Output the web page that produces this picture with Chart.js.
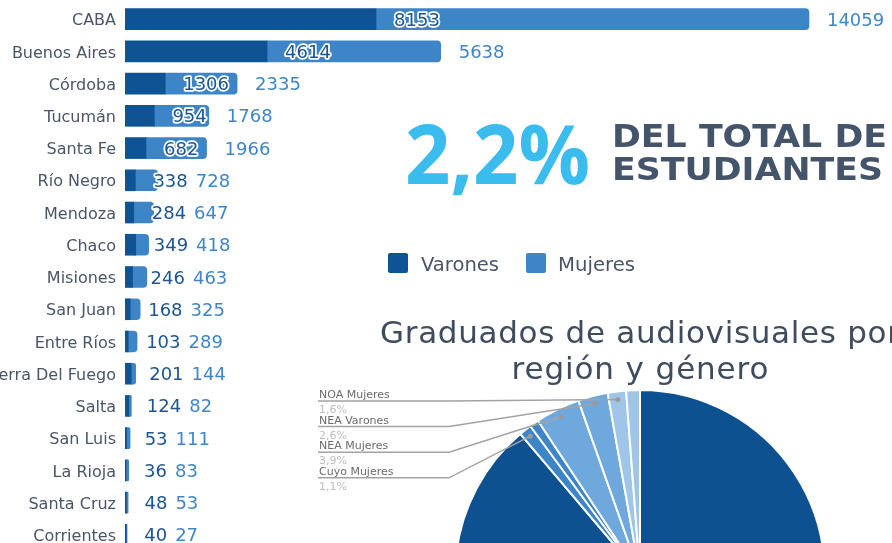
<!DOCTYPE html>
<html><head><meta charset="utf-8">
<script src="https://cdn.jsdelivr.net/npm/chart.js@4.4.1/dist/chart.umd.min.js"></script>
<style>
html,body{margin:0;padding:0;width:892px;height:543px;overflow:hidden;background:#fff;position:relative}
#barWrap{position:absolute;left:-40px;top:0;width:932px;height:560px}
#pieWrap{position:absolute;left:300px;top:380px;width:592px;height:400px}
#txt{position:absolute;left:0;top:0}
</style></head><body>
<div id="barWrap"><canvas id="bar"></canvas></div>
<svg id="txt" width="892" height="543">
  <text x="405" y="184" font-family="Open Sans" font-weight="700" font-size="82" fill="#3bbcee" textLength="185" lengthAdjust="spacingAndGlyphs">2,2%</text>
  <text x="612" y="147" font-family="DejaVu Sans" font-weight="700" font-size="32" fill="#44546a" textLength="275" lengthAdjust="spacingAndGlyphs">DEL TOTAL DE</text>
  <text x="612" y="180" font-family="DejaVu Sans" font-weight="700" font-size="32" fill="#44546a" textLength="271" lengthAdjust="spacingAndGlyphs">ESTUDIANTES</text>
  <rect x="388" y="253" width="20" height="20" rx="2" fill="#0f5394"/>
  <text x="421" y="271" font-family="DejaVu Sans" font-size="20" fill="#4a5568" textLength="78" lengthAdjust="spacingAndGlyphs">Varones</text>
  <rect x="526" y="253" width="20" height="20" rx="2" fill="#3d85c6"/>
  <text x="558" y="271" font-family="DejaVu Sans" font-size="20" fill="#4a5568" textLength="77" lengthAdjust="spacingAndGlyphs">Mujeres</text>
  <text x="640" y="343" text-anchor="middle" font-family="DejaVu Sans" font-size="31" fill="#3e4c5e" textLength="520" lengthAdjust="spacing">Graduados de audiovisuales por</text>
  <text x="640" y="379" text-anchor="middle" font-family="DejaVu Sans" font-size="31" fill="#3e4c5e" textLength="257" lengthAdjust="spacing">región y género</text>
</svg>
<div id="pieWrap"><canvas id="pie"></canvas></div>
<script>
// ---- Bar chart data ----
const provincias = ["CABA","Buenos Aires","Córdoba","Tucumán","Santa Fe","Río Negro","Mendoza","Chaco","Misiones","San Juan","Entre Ríos","Tierra Del Fuego","Salta","San Luis","La Rioja","Santa Cruz","Corrientes"];
const varones = [8153,4614,1306,954,682,338,284,349,246,168,103,201,124,53,36,48,40];
const mujeres = [14059,5638,2335,1768,1966,728,647,418,463,325,289,144,82,111,83,53,27];

// ---- Pie chart data ----
const pieLabels = ["CABA Mujeres","CABA Varones","Buenos Aires Mujeres","Buenos Aires Varones","Patagonia Mujeres","Patagonia Varones","Centro Varones","Centro Mujeres","Cuyo Mujeres","Cuyo Varones","NEA Mujeres","NEA Varones","NOA Mujeres","NOA Varones"];
const piePct = [31.5,18.3,11.0,7.0,2.5,1.5,5.0,12.0,1.1,0.8,3.9,2.6,1.6,1.2];
const calloutNames = ["NOA Mujeres","NEA Varones","NEA Mujeres","Cuyo Mujeres"];

const pieColors = ["#0e5190","#1a5fa0","#2a6fb0","#2f76b8","#3d85c6","#3d85c6","#1f64a4","#0e5190","#3d85c6","#3d85c6","#6fa8dc","#6fa8dc","#9fc5e8","#9fc5e8"];

const barLabels = {
  id:'barLabels',
  afterDatasetsDraw(chart){
    const ctx = chart.ctx;
    const mv = chart.getDatasetMeta(0), mm = chart.getDatasetMeta(1);
    const dv = chart.data.datasets[0].data, dm = chart.data.datasets[1].data;
    ctx.save();
    ctx.font = '18px "DejaVu Sans"';
    ctx.textBaseline = 'alphabetic';
    ctx.textAlign = 'left';
    ctx.lineJoin = 'round';
    mv.data.forEach((el,i)=>{
      const tv = String(dv[i]), tm = String(dm[i]);
      const yb = el.y + 6.5;
      const xv = el.x + 18;
      ctx.lineWidth = 3.5; ctx.strokeStyle = '#ffffff';
      ctx.strokeText(tv, xv, yb);
      ctx.fillStyle = '#1b5593'; ctx.fillText(tv, xv, yb);
      const xm = Math.max(mm.data[i].x + 18, xv + ctx.measureText(tv).width + 8);
      ctx.strokeText(tm, xm, yb);
      ctx.fillStyle = '#3f86c8'; ctx.fillText(tm, xm, yb);
    });
    ctx.restore();
  }
};

new Chart(document.getElementById('bar'), {
  type:'bar',
  data:{labels:provincias, datasets:[
    {label:'Varones', data:varones, backgroundColor:'#0f5394', borderRadius:0, barThickness:21},
    {label:'Mujeres', data:mujeres, backgroundColor:'#3d85c6', borderRadius:4, barThickness:21}
  ]},
  options:{
    indexAxis:'y', responsive:true, maintainAspectRatio:false, animation:false,
    layout:{padding:{top:3,bottom:9,right:28,left:0}},
    plugins:{legend:{display:false}, tooltip:{enabled:false}},
    scales:{
      x:{stacked:true, display:false, min:0, max:24000},
      y:{stacked:true, grid:{display:false, drawTicks:false}, border:{display:false},
         ticks:{color:'#4a5568', font:{family:'DejaVu Sans', size:16}, padding:9, autoSkip:false, labelOffset:2},
         afterFit(s){ s.width = 165; s.paddingTop = 0; s.paddingBottom = 0; }}
    }
  },
  plugins:[barLabels]
});

const pieCallouts = {
  id:'pieCallouts',
  afterDraw(chart){
    const ctx = chart.ctx;
    const meta = chart.getDatasetMeta(0);
    const ds = chart.data.datasets[0];
    ctx.save();
    calloutNames.forEach((name,k)=>{
      const i = chart.data.labels.indexOf(name);
      const arc = meta.data[i];
      const mid = (arc.startAngle + arc.endAngle)/2;
      const r = arc.outerRadius - 8;
      const px = arc.x + Math.cos(mid)*r, py = arc.y + Math.sin(mid)*r;
      const ly = 21 + k*25.6, ex = 149, lx = 18;
      ctx.strokeStyle = '#a3a3a3'; ctx.lineWidth = 1.5;
      ctx.beginPath(); ctx.moveTo(lx, ly); ctx.lineTo(ex, ly); ctx.lineTo(px, py); ctx.stroke();
      ctx.fillStyle = '#9a9a9a';
      ctx.beginPath(); ctx.arc(px, py, 2.5, 0, Math.PI*2); ctx.fill();
      ctx.font = '11px "DejaVu Sans"'; ctx.textAlign = 'left'; ctx.textBaseline = 'alphabetic';
      ctx.fillStyle = '#6b6b6b'; ctx.fillText(name, lx+1, ly-3);
      ctx.fillStyle = '#bdbdbd'; ctx.fillText(ds.data[i].toFixed(1).replace('.', ',') + '%', lx+1, ly+12);
    });
    ctx.restore();
  }
};

new Chart(document.getElementById('pie'), {
  type:'pie',
  data:{labels:pieLabels, datasets:[{data:piePct, backgroundColor:pieColors, borderColor:'#ffffff', borderWidth:2}]},
  options:{responsive:true, maintainAspectRatio:false, animation:false,
    layout:{padding:{top:9,bottom:19,left:154,right:66}},
    plugins:{legend:{display:false}, tooltip:{enabled:false}}},
  plugins:[pieCallouts]
});
</script>
</body></html>
